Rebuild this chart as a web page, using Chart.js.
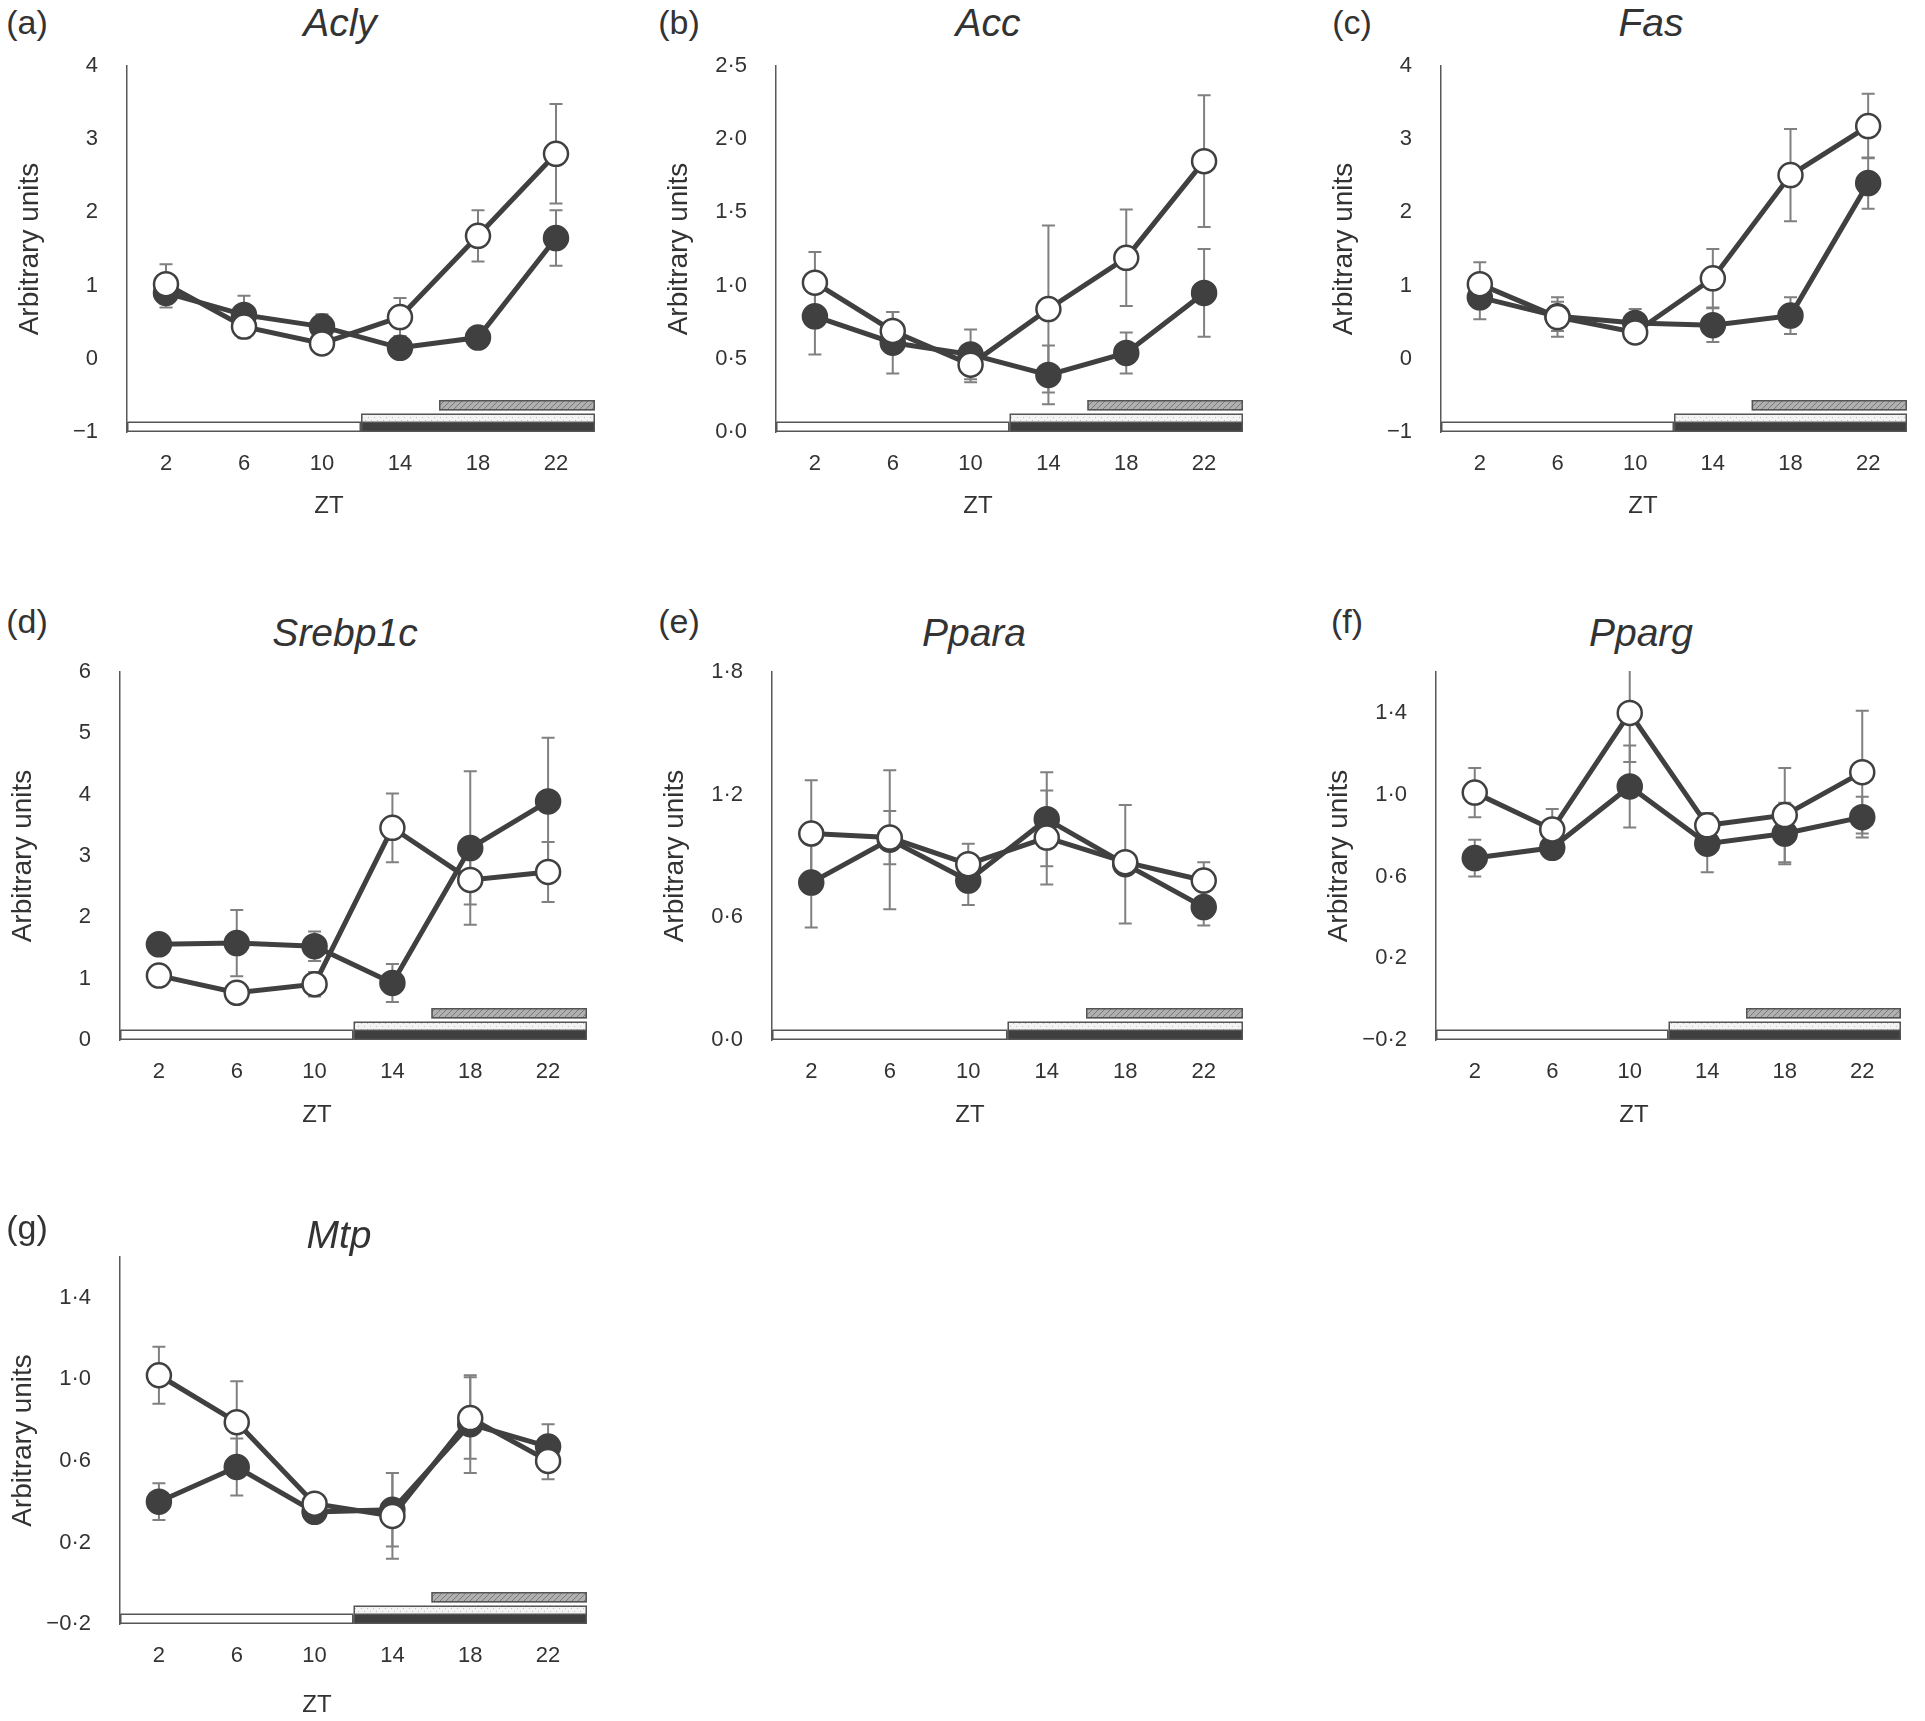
<!DOCTYPE html>
<html>
<head>
<meta charset="utf-8">
<script src="https://cdn.jsdelivr.net/npm/chart.js@4"></script>
<style>
  body { margin: 0; background: #fff; width: 1925px; height: 1721px; position: relative; overflow: hidden;
         font-family: "Liberation Sans", Arial, sans-serif; color: #333; }
  canvas { position: absolute; }
  .lbl { position: absolute; transform: translate(-50%, -50%); white-space: nowrap; line-height: 1; }
  .panel { font-size: 34px; }
  .gene { font-size: 39px; font-style: italic; }
  .zt { font-size: 24px; }
</style>
</head>
<body>
<script>
// ZT sampling times
var zt = [2, 6, 10, 14, 18, 22];

// light / dark bars (ZT ranges)
var phases = [
  { from: 0, to: 12, row: 0, fill: 'white' },
  { from: 12, to: 24, row: 0, fill: 'black' },
  { from: 12, to: 24, row: 1, fill: 'dots' },
  { from: 16, to: 24, row: 2, fill: 'hatch' }
];

// (a) Acly
var aclyOpen = [1.02, 0.44, 0.21, 0.57, 1.68, 2.80];
var aclyOpenErr = [0.27, 0.16, 0.08, 0.26, 0.35, 0.68];
var aclyFilled = [0.90, 0.60, 0.44, 0.15, 0.29, 1.65];
var aclyFilledErr = [0.20, 0.26, 0.17, 0.06, 0.06, 0.38];
var aclyTicks = [-1, 0, 1, 2, 3, 4];

// (b) Acc
var accOpen = [1.02, 0.69, 0.46, 0.84, 1.19, 1.85];
var accOpenErr = [0.21, 0.13, 0.12, 0.57, 0.33, 0.45];
var accFilled = [0.79, 0.61, 0.53, 0.39, 0.54, 0.95];
var accFilledErr = [0.26, 0.21, 0.17, 0.20, 0.14, 0.30];
var accTicks = [0, 0.5, 1.0, 1.5, 2.0, 2.5];

// (c) Fas
var fasOpen = [1.02, 0.57, 0.36, 1.10, 2.51, 3.18];
var fasOpenErr = [0.30, 0.27, 0.14, 0.40, 0.63, 0.44];
var fasFilled = [0.84, 0.58, 0.49, 0.46, 0.59, 2.40];
var fasFilledErr = [0.30, 0.20, 0.19, 0.23, 0.25, 0.35];
var fasTicks = [-1, 0, 1, 2, 3, 4];

// (d) Srebp1c
var srebpOpen = [1.05, 0.77, 0.91, 3.46, 2.61, 2.74];
var srebpOpenErr = [0.10, 0.08, 0.20, 0.56, 0.40, 0.49];
var srebpFilled = [1.56, 1.58, 1.53, 0.93, 3.13, 3.89];
var srebpFilledErr = [0.17, 0.54, 0.24, 0.31, 1.25, 1.04];
var srebpTicks = [0, 1, 2, 3, 4, 5, 6];

// (e) Ppara
var pparaOpen = [1.01, 0.99, 0.86, 0.99, 0.87, 0.78];
var pparaOpenErr = [0.26, 0.13, 0.10, 0.23, 0.05, 0.09];
var pparaFilled = [0.77, 0.98, 0.78, 1.08, 0.86, 0.65];
var pparaFilledErr = [0.22, 0.34, 0.12, 0.23, 0.29, 0.09];
var pparaTicks = [0, 0.6, 1.2, 1.8];

// (f) Pparg
var ppargOpen = [1.01, 0.83, 1.40, 0.85, 0.90, 1.11];
var ppargOpenErr = [0.12, 0.10, 0.24, 0.06, 0.23, 0.30];
var ppargFilled = [0.69, 0.74, 1.04, 0.76, 0.81, 0.89];
var ppargFilledErr = [0.09, 0.05, 0.20, 0.14, 0.15, 0.10];
var ppargTicks = [-0.2, 0.2, 0.6, 1.0, 1.4];

// (g) Mtp
var mtpOpen = [1.02, 0.79, 0.39, 0.33, 0.81, 0.60];
var mtpOpenErr = [0.14, 0.20, 0.04, 0.21, 0.20, 0.09];
var mtpFilled = [0.40, 0.57, 0.35, 0.36, 0.78, 0.67];
var mtpFilledErr = [0.09, 0.14, 0.03, 0.18, 0.24, 0.11];
var mtpTicks = [-0.2, 0.2, 0.6, 1.0, 1.4];

var FONT = '"Liberation Sans", Arial, sans-serif';
var DARK = '#404040';

var panels = [
  { tag: '(a)', gene: 'Acly', open: aclyOpen, openErr: aclyOpenErr, filled: aclyFilled, filledErr: aclyFilledErr,
    ticks: aclyTicks, max: 4, dec: 0, box: [127, 595, 66, 432], tagAt: [27, 22], geneAt: [340, 22], ztAt: [329, 505] },
  { tag: '(b)', gene: 'Acc', open: accOpen, openErr: accOpenErr, filled: accFilled, filledErr: accFilledErr,
    ticks: accTicks, max: 2.5, dec: 1, box: [776, 1243, 66, 432], tagAt: [679, 22], geneAt: [988, 22], ztAt: [978, 505] },
  { tag: '(c)', gene: 'Fas', open: fasOpen, openErr: fasOpenErr, filled: fasFilled, filledErr: fasFilledErr,
    ticks: fasTicks, max: 4, dec: 0, box: [1441, 1907, 66, 432], tagAt: [1352, 22], geneAt: [1651, 22], ztAt: [1643, 505] },
  { tag: '(d)', gene: 'Srebp1c', open: srebpOpen, openErr: srebpOpenErr, filled: srebpFilled, filledErr: srebpFilledErr,
    ticks: srebpTicks, max: 6, dec: 0, box: [120, 587, 672, 1040], tagAt: [27, 621], geneAt: [345, 632], ztAt: [317, 1114] },
  { tag: '(e)', gene: 'Ppara', open: pparaOpen, openErr: pparaOpenErr, filled: pparaFilled, filledErr: pparaFilledErr,
    ticks: pparaTicks, max: 1.8, dec: 1, box: [772, 1243, 672, 1040], tagAt: [679, 621], geneAt: [974, 632], ztAt: [970, 1114] },
  { tag: '(f)', gene: 'Pparg', open: ppargOpen, openErr: ppargOpenErr, filled: ppargFilled, filledErr: ppargFilledErr,
    ticks: ppargTicks, max: 1.6, dec: 1, box: [1436, 1901, 672, 1040], tagAt: [1347, 621], geneAt: [1641, 632], ztAt: [1634, 1114] },
  { tag: '(g)', gene: 'Mtp', open: mtpOpen, openErr: mtpOpenErr, filled: mtpFilled, filledErr: mtpFilledErr,
    ticks: mtpTicks, max: 1.6, dec: 1, box: [120, 587, 1257, 1624], tagAt: [27, 1227], geneAt: [339, 1234], ztAt: [317, 1704] }
];

function fmt(v, dec) {
  var s = Math.abs(v).toFixed(dec).replace('.', '\u00b7');
  return v < 0 ? '\u2212' + s : s;
}

function addLabel(text, cls, at) {
  var d = document.createElement('div');
  d.className = 'lbl ' + cls;
  d.textContent = text;
  d.style.left = at[0] + 'px';
  d.style.top = at[1] + 'px';
  document.body.appendChild(d);
}

function makePattern(ctx, kind) {
  var c = document.createElement('canvas');
  c.width = 6; c.height = 6;
  var g = c.getContext('2d');
  if (kind === 'dots') {
    g.fillStyle = '#f3f3f3'; g.fillRect(0, 0, 6, 6);
    g.fillStyle = '#c2c2c2'; g.fillRect(0, 0, 1, 1); g.fillRect(3, 3, 1, 1);
  } else {
    g.fillStyle = '#b0b0b0'; g.fillRect(0, 0, 6, 6);
    g.strokeStyle = '#7a7a7a'; g.lineWidth = 1;
    g.beginPath(); g.moveTo(0, 6); g.lineTo(6, 0); g.moveTo(-1, 1); g.lineTo(1, -1); g.moveTo(5, 7); g.lineTo(7, 5); g.stroke();
  }
  return ctx.createPattern(c, 'repeat');
}

// error bars drawn behind the lines
var errorBars = {
  id: 'errorBars',
  beforeDatasetsDraw: function (chart) {
    var ctx = chart.ctx, area = chart.chartArea, x = chart.scales.x, y = chart.scales.y;
    ctx.save();
    ctx.beginPath();
    ctx.rect(area.left, area.top - 1, area.right - area.left, area.bottom - area.top + 1);
    ctx.clip();
    ctx.strokeStyle = '#808080';
    ctx.lineWidth = 2;
    chart.data.datasets.forEach(function (ds) {
      ds.data.forEach(function (p, i) {
        var px = x.getPixelForValue(p.x);
        var hi = y.getPixelForValue(p.y + ds.err[i]);
        var lo = y.getPixelForValue(p.y - ds.err[i]);
        ctx.beginPath();
        ctx.moveTo(px, hi); ctx.lineTo(px, lo);
        ctx.moveTo(px - 6.5, hi); ctx.lineTo(px + 6.5, hi);
        ctx.moveTo(px - 6.5, lo); ctx.lineTo(px + 6.5, lo);
        ctx.stroke();
      });
    });
    ctx.restore();
  }
};

// light-dark bars along the bottom of the plot
var rowSpan = [[0, 10.5], [9, 18.5], [21.5, 32]];
var phaseBars = {
  id: 'phaseBars',
  afterDraw: function (chart) {
    var ctx = chart.ctx, x = chart.scales.x, bottom = chart.chartArea.bottom;
    var fills = { white: '#ffffff', black: '#3f3f3f', dots: makePattern(ctx, 'dots'), hatch: makePattern(ctx, 'hatch') };
    ctx.save();
    ctx.lineWidth = 1.5;
    ctx.strokeStyle = '#555';
    phases.forEach(function (ph) {
      var x0 = x.getPixelForValue(ph.from), x1 = x.getPixelForValue(ph.to);
      var yTop = bottom - rowSpan[ph.row][1], yBot = bottom - rowSpan[ph.row][0];
      ctx.fillStyle = fills[ph.fill];
      ctx.fillRect(x0, yTop, x1 - x0, yBot - yTop);
      ctx.strokeRect(x0 + 0.75, yTop + 0.75, x1 - x0 - 1.5, yBot - yTop - 1.5);
    });
    ctx.restore();
  }
};

panels.forEach(function (p) {
  var L = p.box[0], R = p.box[1], T = p.box[2], B = p.box[3];
  var yAxisW = 125, xAxisH = 100, padTop = 15, padRight = 15;
  var cv = document.createElement('canvas');
  cv.width = (R - L) + yAxisW + padRight;
  cv.height = (B - T) + padTop + xAxisH;
  cv.style.left = (L - yAxisW) + 'px';
  cv.style.top = (T - padTop) + 'px';
  document.body.appendChild(cv);

  addLabel(p.tag, 'panel', p.tagAt);
  addLabel(p.gene, 'gene', p.geneAt);
  addLabel('ZT', 'zt', p.ztAt);

  var toPts = function (vals) { return zt.map(function (t, i) { return { x: t, y: vals[i] }; }); };

  new Chart(cv, {
    type: 'line',
    data: {
      datasets: [
        { label: 'open', data: toPts(p.open), err: p.openErr, borderColor: DARK, borderWidth: 5,
          pointRadius: 12, pointBorderWidth: 2.5, pointBackgroundColor: '#ffffff', pointBorderColor: DARK, clip: false },
        { label: 'filled', data: toPts(p.filled), err: p.filledErr, borderColor: DARK, borderWidth: 5,
          pointRadius: 12, pointBorderWidth: 2.5, pointBackgroundColor: DARK, pointBorderColor: DARK, clip: false }
      ]
    },
    options: {
      responsive: false,
      animation: false,
      layout: { padding: { top: padTop, right: padRight, left: 0, bottom: 0 } },
      plugins: { legend: { display: false }, tooltip: { enabled: false } },
      scales: {
        x: {
          type: 'linear', min: 0, max: 24,
          afterBuildTicks: function (s) { s.ticks = zt.map(function (v) { return { value: v }; }); },
          afterFit: function (s) { s.height = xAxisH; s.paddingLeft = 0; s.paddingRight = 0; },
          grid: { display: false, drawTicks: false },
          border: { display: false },
          ticks: { padding: 19, color: '#333', font: { size: 22, family: FONT }, maxRotation: 0, autoSkip: false }
        },
        y: {
          min: p.ticks[0], max: p.max,
          afterBuildTicks: function (s) { s.ticks = p.ticks.map(function (v) { return { value: v }; }); },
          afterFit: function (s) { s.width = yAxisW; s.paddingTop = 0; s.paddingBottom = 0; },
          grid: { display: false, drawTicks: false },
          border: { display: true, color: '#595959', width: 1.5 },
          ticks: { padding: 29, color: '#333', font: { size: 22, family: FONT },
                   callback: function (v) { return fmt(v, p.dec); } },
          title: { display: true, text: 'Arbitrary units', color: '#333', font: { size: 28, family: FONT }, padding: { top: 11 } }
        }
      }
    },
    plugins: [errorBars, phaseBars]
  });
});
</script>
</body>
</html>
